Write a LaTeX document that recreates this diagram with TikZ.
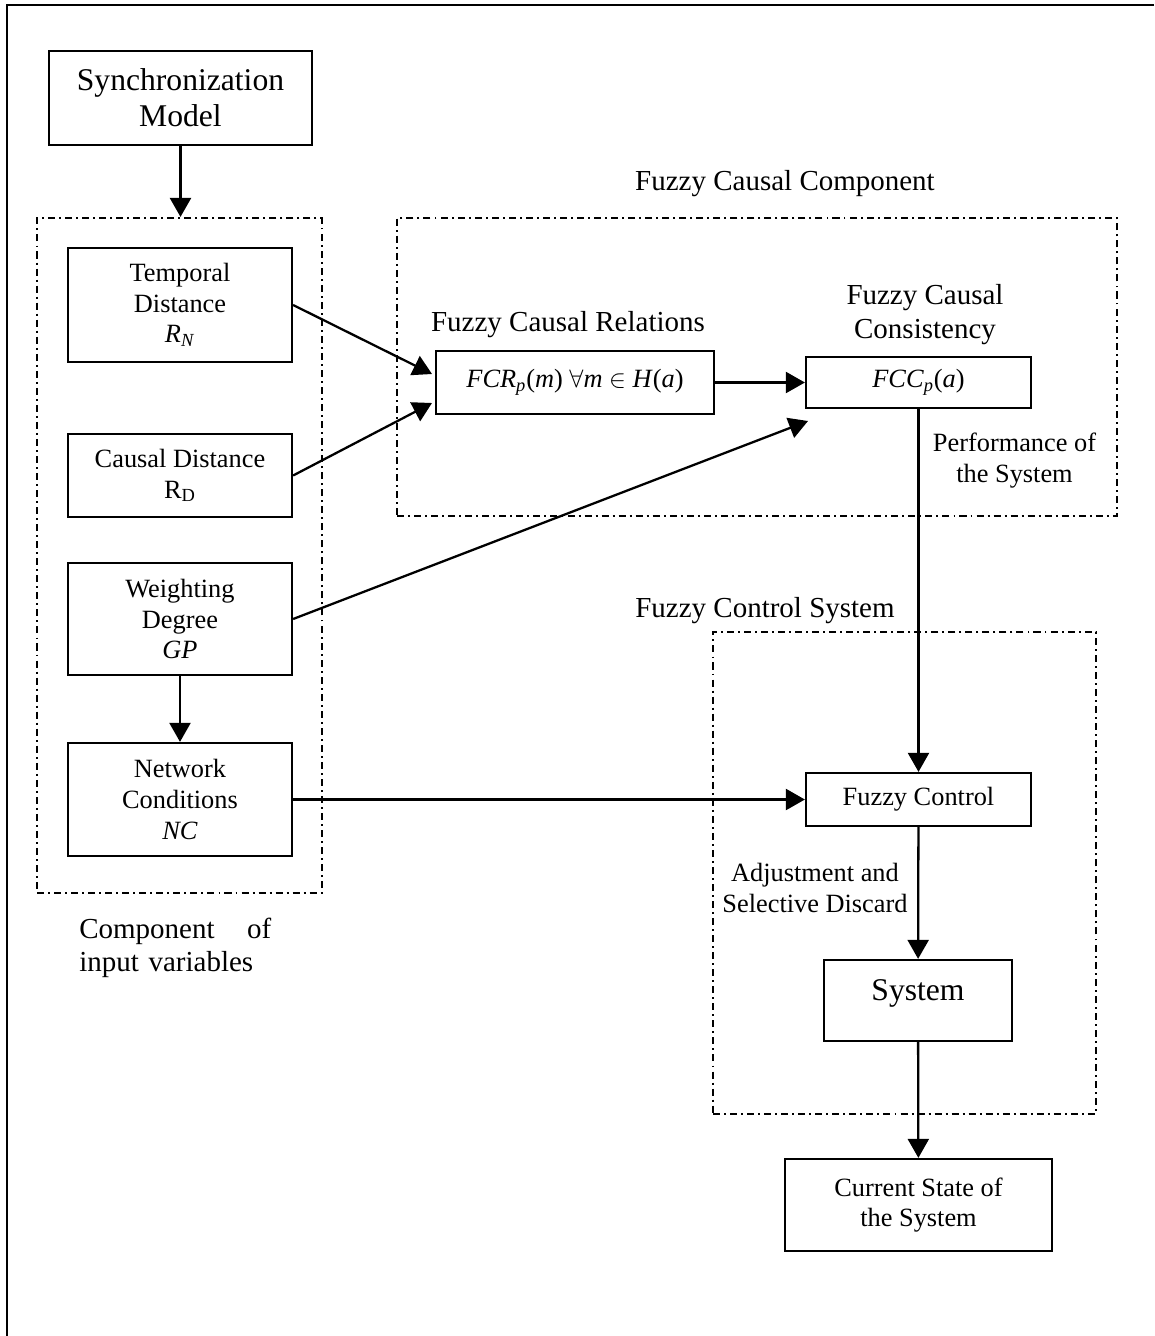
\documentclass[tikz,border=0pt]{standalone}
\usepackage{fontspec}
\setmainfont{Liberation Serif}
\usepackage{tikz}
\usetikzlibrary{arrows.meta,positioning}

\begin{document}
\begin{tikzpicture}[x=0.02cm, y=-0.02cm,
      box/.style={draw, line width=1.3pt, inner sep=2pt, align=center,
                  font=\fontsize{15}{17.5}\selectfont},
      bigbox/.style={box, font=\fontsize{18}{20.5}\selectfont},
      grp/.style={draw, line width=1.3pt,
                  dash pattern=on 4pt off 2.3pt on 1.1pt off 2.3pt},
      lbl/.style={align=center, inner sep=0pt, font=\fontsize{16.5}{19}\selectfont},
      sml/.style={lbl, font=\fontsize{15}{17.5}\selectfont},
      arr/.style={-{Triangle[length=0.38cm, width=0.42cm]}, line width=1.3pt}
  ]
    \useasboundingbox (0,0) rectangle (1154,1336);
    \draw[line width=1.3pt] (1154,5) -- (7,5) -- (7,1336);

    % dash-dot groups
    \node[grp, minimum width=5.7cm,  minimum height=13.5cm] (inbox)   at (179.5,555.5) {};
    \node[grp, minimum width=14.4cm, minimum height=5.96cm] (fccbox)  at (757,367) {};
    \node[grp, minimum width=7.66cm, minimum height=9.64cm] (ctrlbox) at (904.5,873) {};

    % blocks
    \node[bigbox, minimum width=5.26cm, minimum height=1.88cm] (sync) at (180.5,98) {Synchronization\\Model};
    \node[box, minimum width=4.48cm, minimum height=2.28cm] (temporal) at (180,305)
         {Temporal\\Distance\\\textit{R}\textsubscript{\textit{N}}};
    \node[box, minimum width=4.48cm, minimum height=1.66cm] (causal) at (180,475.5)
         {Causal Distance\\R\textsubscript{D}};
    \node[box, minimum width=4.48cm, minimum height=2.24cm] (weight) at (180,619)
         {Weighting\\Degree\\\textit{GP}};
    \node[box, minimum width=4.48cm, minimum height=2.26cm] (network) at (180,799.5)
         {Network\\Conditions\\\textit{NC}};
    \node[box, minimum width=5.56cm, minimum height=1.26cm] (fcr) at (575,382.5)
         {\textit{FCR}\textsubscript{\textit{p}}(\textit{m}) $\forall$\textit{m} $\in$ \textit{H}(\textit{a})};
    \node[box, minimum width=4.5cm, minimum height=1.02cm] (fcc) at (918.5,382.5)
         {\textit{FCC}\textsubscript{\textit{p}}(\textit{a})};
    \node[box, minimum width=4.5cm, minimum height=1.06cm] (fctrl) at (918.5,799.5) {Fuzzy Control};
    \node[bigbox, minimum width=3.76cm, minimum height=1.62cm,
          text height=12.3pt, text depth=12.3pt] (system) at (918,1000.5) {System};
    \node[box, minimum width=5.34cm, minimum height=1.84cm] (state) at (918.5,1205)
         {Current State of\\the System};

    % labels (base = last line)
    \node[lbl, anchor=base] (fccl)  at (785,190)    {Fuzzy Causal Component};
    \node[lbl, anchor=base] (fcrl)  at (568,331)    {Fuzzy Causal Relations};
    \node[lbl, anchor=base] (fccsl) at (925,338)    {Fuzzy Causal\\Consistency};
    \node[sml, anchor=base] (perfl) at (1014.5,482) {Performance of\\the System};
    \node[lbl, anchor=base] (ctrll) at (765,617)    {Fuzzy Control System};
    \node[sml, anchor=base] (adjl)  at (815,912)    {Adjustment and\\Selective Discard};
    \node[lbl, anchor=base west, text width=3.84cm, align=left] (inl) at (79,938)
         {Component\hfill of\\input variables};

    % arrow tips that stop short of the blocks
    \coordinate (inT) at (432,374);
    \coordinate (inC) at (432,403);
    \coordinate (inW) at (808,421);

    \draw[arr] (sync.south) -- (sync.south |- inbox.north);
    \draw[arr] (temporal.east) -- (inT);
    \draw[arr] (causal.east) -- (inC);
    \draw[arr] (weight.east) -- (inW);
    \draw[arr] (weight) -- (network);
    \draw[arr] (network) -- (fctrl);
    \draw[arr] (fcr) -- (fcc);
    \draw[arr] (fcc) -- (fctrl);
    \draw[arr] (fctrl) -- (system);
    \draw[arr] (system) -- (state);
  \end{tikzpicture}
\end{document}
